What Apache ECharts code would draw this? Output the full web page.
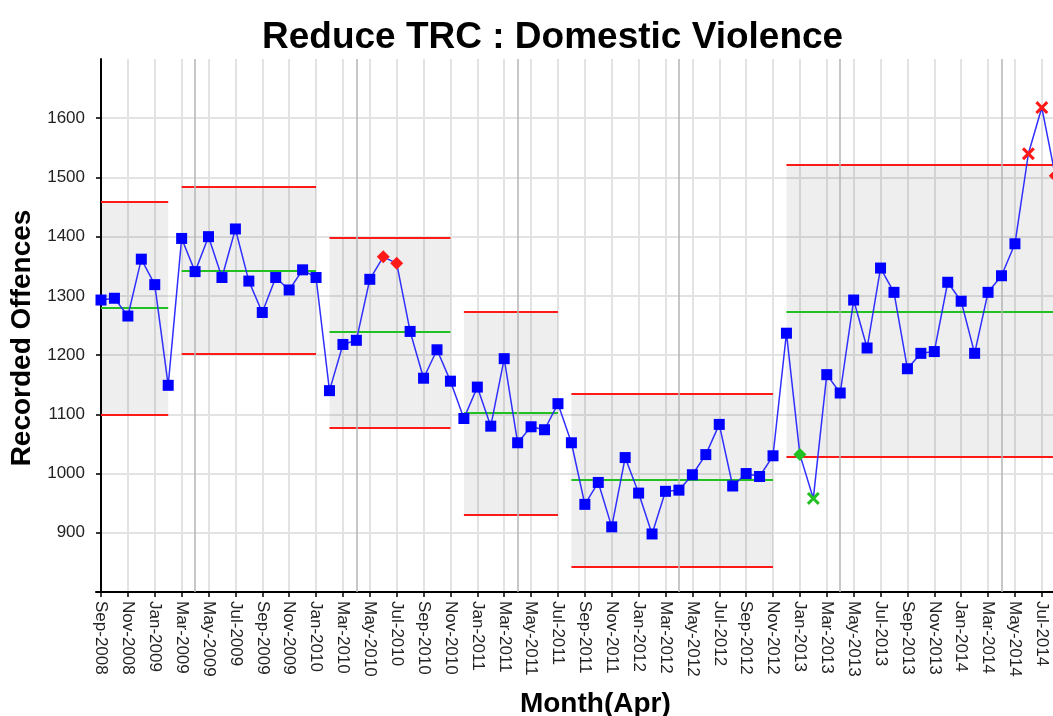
<!DOCTYPE html>
<html>
<head>
<meta charset="utf-8">
<script src="https://cdn.jsdelivr.net/npm/echarts@6/dist/echarts.min.js"></script>
<style>
  html, body { margin: 0; padding: 0; background: #fff; }
  #chart { width: 1053px; height: 716px; }
</style>
</head>
<body>
<div id="chart"></div>
<script>
// month labels, Sep-2008 .. Aug-2014
var months = [
  'Sep-2008', 'Oct-2008', 'Nov-2008', 'Dec-2008', 'Jan-2009', 'Feb-2009',
  'Mar-2009', 'Apr-2009', 'May-2009', 'Jun-2009', 'Jul-2009', 'Aug-2009',
  'Sep-2009', 'Oct-2009', 'Nov-2009', 'Dec-2009', 'Jan-2010', 'Feb-2010',
  'Mar-2010', 'Apr-2010', 'May-2010', 'Jun-2010', 'Jul-2010', 'Aug-2010',
  'Sep-2010', 'Oct-2010', 'Nov-2010', 'Dec-2010', 'Jan-2011', 'Feb-2011',
  'Mar-2011', 'Apr-2011', 'May-2011', 'Jun-2011', 'Jul-2011', 'Aug-2011',
  'Sep-2011', 'Oct-2011', 'Nov-2011', 'Dec-2011', 'Jan-2012', 'Feb-2012',
  'Mar-2012', 'Apr-2012', 'May-2012', 'Jun-2012', 'Jul-2012', 'Aug-2012',
  'Sep-2012', 'Oct-2012', 'Nov-2012', 'Dec-2012', 'Jan-2013', 'Feb-2013',
  'Mar-2013', 'Apr-2013', 'May-2013', 'Jun-2013', 'Jul-2013', 'Aug-2013',
  'Sep-2013', 'Oct-2013', 'Nov-2013', 'Dec-2013', 'Jan-2014', 'Feb-2014',
  'Mar-2014', 'Apr-2014', 'May-2014', 'Jun-2014', 'Jul-2014', 'Aug-2014'
];

// recorded offences per month
var offences = [
  1293, 1296, 1266, 1362, 1319, 1149,
  1397, 1341, 1400, 1331, 1413, 1325, 1272, 1331, 1310, 1344, 1331,
  1140, 1218, 1225, 1328, 1366, 1355, 1240, 1161, 1209, 1156,
  1093, 1146, 1080, 1194, 1052, 1079, 1074, 1118,
  1052, 948, 985, 910, 1027, 967, 898, 970, 972, 998, 1032, 1083, 979, 1000, 995, 1030,
  1237, 1032, 958, 1167, 1136, 1293, 1212, 1347, 1306, 1177, 1203, 1206, 1323, 1291,
  1203, 1306, 1334, 1388, 1540, 1618, 1503
];

// flagged points (month index)
var redDiamond = [21, 22, 71];
var redCross = [69, 70];
var greenDiamond = [52];
var greenCross = [53];

// control limit segments
var bandStart = [0, 6, 17, 27, 35, 51];
var bandEnd = [5, 16, 26, 34, 50, 72];
var bandMean = [1280, 1343, 1239, 1103, 990, 1274];
var bandUcl = [1459, 1484, 1399, 1273, 1135, 1522];
var bandLcl = [1100, 1203, 1078, 930, 843, 1028];

// April (financial year start) lines
var aprilIdx = [7, 19, 31, 43, 55, 67];

var yTicks = [900, 1000, 1100, 1200, 1300, 1400, 1500, 1600];
var xTicks = [];
months.forEach(function (m, i) { if (i % 2 === 0 && i < 71) xTicks.push(i); });

var crossPath = 'path://M0,2 L2,0 L6,4 L10,0 L12,2 L8,6 L12,10 L10,12 L6,8 L2,12 L0,10 L4,6 Z';
var RED = '#ff1a1a', GREEN = '#22c022';

var points = offences.map(function (v, i) {
  var p = { value: [i, v] };
  if (redDiamond.indexOf(i) >= 0) {
    p.symbol = 'diamond'; p.symbolSize = 13; p.itemStyle = { color: RED };
  } else if (redCross.indexOf(i) >= 0) {
    p.symbol = crossPath; p.symbolSize = 13; p.itemStyle = { color: RED };
  } else if (greenDiamond.indexOf(i) >= 0) {
    p.symbol = 'diamond'; p.symbolSize = 13; p.itemStyle = { color: GREEN };
  } else if (greenCross.indexOf(i) >= 0) {
    p.symbol = crossPath; p.symbolSize = 13; p.itemStyle = { color: GREEN };
  }
  return p;
});

var areas = bandStart.map(function (s, k) {
  return [{ coord: [s, bandLcl[k]] }, { coord: [bandEnd[k], bandUcl[k]] }];
});

var lines = [];
bandStart.forEach(function (s, k) {
  lines.push([{ coord: [s, bandUcl[k]], lineStyle: { color: RED, width: 2, type: 'solid' } }, { coord: [bandEnd[k], bandUcl[k]] }]);
  lines.push([{ coord: [s, bandLcl[k]], lineStyle: { color: RED, width: 2, type: 'solid' } }, { coord: [bandEnd[k], bandLcl[k]] }]);
  lines.push([{ coord: [s, bandMean[k]], lineStyle: { color: GREEN, width: 2, type: 'solid' } }, { coord: [bandEnd[k], bandMean[k]] }]);
});
var aprLines = aprilIdx.map(function (a) {
  return { xAxis: a, lineStyle: { color: '#b4b4b4', width: 1.5, type: 'solid' } };
});

var option = {
  animation: false,
  backgroundColor: '#fff',
  textStyle: { fontFamily: 'Liberation Sans, Arial, sans-serif' },
  title: {
    text: 'Reduce TRC : Domestic Violence',
    left: 257,
    top: 14,
    textStyle: { fontSize: 37, fontWeight: 'bold', color: '#000' }
  },
  grid: {
    left: 96,
    right: -15.7,
    top: 59,
    bottom: 124,
    outerBoundsMode: 'none'
  },
  xAxis: {
    type: 'value',
    min: -0.372,
    max: 72,
    name: 'Month(Apr)',
    nameLocation: 'middle',
    nameGap: 98,
    nameTextStyle: { fontSize: 28, fontWeight: 'bold', color: '#000', padding: [0, 0, 0, 26] },
    axisLine: { lineStyle: { color: '#000', width: 2 } },
    axisTick: { customValues: xTicks, length: 5, lineStyle: { color: '#000', width: 1.5 } },
    axisLabel: {
      customValues: xTicks,
      rotate: -90,
      margin: 9,
      fontSize: 17,
      color: '#222',
      formatter: function (v) { return months[Math.round(v)]; }
    },
    splitLine: { show: true, lineStyle: { color: '#e3e3e3', width: 2 } }
  },
  yAxis: {
    type: 'value',
    min: 800,
    max: 1700,
    interval: 100,
    name: 'Recorded Offences',
    nameLocation: 'middle',
    nameRotate: 90,
    nameGap: 54,
    nameTextStyle: { fontSize: 28, fontWeight: 'bold', color: '#000', padding: [0, 25, 0, 0] },
    axisLine: { show: true, lineStyle: { color: '#000', width: 2 } },
    axisTick: { show: true, customValues: yTicks, length: 5, lineStyle: { color: '#000', width: 1.5 } },
    axisLabel: {
      customValues: yTicks, fontSize: 17, margin: 11, color: '#222',
      formatter: function (v) { return String(v); }
    },
    splitLine: { show: true, lineStyle: { color: '#e3e3e3', width: 2 } }
  },
  series: [
    {
      name: 'limits',
      type: 'line',
      data: [],
      z: 1,
      silent: true,
      markArea: {
        silent: true,
        z: 1,
        itemStyle: { color: 'rgba(0,0,0,0.065)' },
        data: areas
      },
      markLine: {
        silent: true,
        z: 1,
        symbol: ['none', 'none'],
        label: { show: false },
        data: lines.concat(aprLines)
      }
    },
    {
      name: 'Recorded Offences',
      type: 'line',
      z: 3,
      data: points,
      symbol: 'rect',
      symbolSize: 11,
      itemStyle: { color: '#0000ff' },
      lineStyle: { color: '#2f2fff', width: 1.5 }
    }
  ]
};

echarts.init(document.getElementById('chart')).setOption(option);
</script>
</body>
</html>
